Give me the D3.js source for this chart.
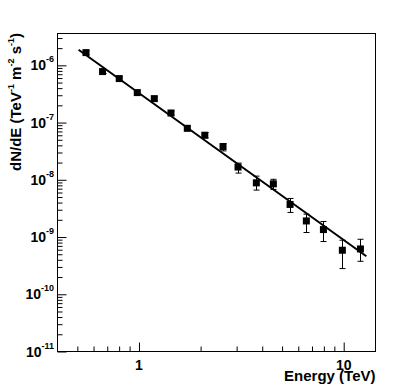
<!DOCTYPE html>
<html>
<head>
<meta charset="utf-8">
<script src="https://cdn.jsdelivr.net/npm/d3@7"></script>
<style>
  html, body { margin: 0; padding: 0; background: #fff; }
  svg { display: block; font-family: "Liberation Sans", Arial, Helvetica, sans-serif; font-weight: bold; }
</style>
</head>
<body>
<svg id="chart" width="408" height="391"></svg>
<script>
// ---- data ----
const energy = [0.551, 0.664, 0.801, 0.981, 1.188, 1.433, 1.722, 2.097, 2.574, 3.047, 3.744, 4.533, 5.470, 6.57, 7.96, 9.85, 12.07];
const flux   = [1.67e-6, 7.78e-7, 5.87e-7, 3.34e-7, 2.62e-7, 1.47e-7, 7.94e-8, 6.01e-8, 3.81e-8, 1.67e-8, 8.85e-9, 8.51e-9, 3.71e-9, 1.91e-9, 1.35e-9, 5.88e-10, 6.19e-10];
const fluxHi = [1.80e-6, 8.4e-7, 6.3e-7, 3.6e-7, 2.85e-7, 1.6e-7, 8.7e-8, 6.7e-8, 4.3e-8, 1.96e-8, 1.16e-8, 1.02e-8, 4.72e-9, 2.51e-9, 1.87e-9, 8.79e-10, 9.14e-10];
const fluxLo = [1.54e-6, 7.2e-7, 5.4e-7, 3.1e-7, 2.4e-7, 1.35e-7, 7.2e-8, 5.4e-8, 3.2e-8, 1.31e-8, 6.61e-9, 6.79e-9, 2.69e-9, 1.20e-9, 8.34e-10, 2.81e-10, 3.77e-10];
const fitE = [0.507, 12.9];
const fitF = [1.87e-6, 4.62e-10];
const xMajor = [1, 10];
const xMajorLabels = ["1", "10"];
const xMinor = [0.5, 0.6, 0.7, 0.8, 0.9, 2, 3, 4, 5, 6, 7, 8, 9];
const yExponents = [-11, -10, -9, -8, -7, -6];
const xDomain = [0.4, 14.3];
const yDomain = [1e-11, 3.6e-6];

// ---- layout ----
const L = 57.5, R = 375.5, T = 33.5, B = 351.5;
const svg = d3.select("#chart");
svg.append("rect").attr("width", 408).attr("height", 391).attr("fill", "#fff");

const x = d3.scaleLog().domain(xDomain).range([L, R]);
const y = d3.scaleLog().domain(yDomain).range([B, T]);

// y minor tick values
const yMinor = [];
for (let e = -11; e <= -6; e++) for (let m = 2; m <= 9; m++) {
  const v = m * Math.pow(10, e);
  if (v <= yDomain[1]) yMinor.push(v);
}
const yMajor = yExponents.map(e => Math.pow(10, e));

// axes (ticks drawn inside frame)
const gx = svg.append("g").attr("transform", `translate(0,${B})`);
gx.call(d3.axisBottom(x).tickValues(xMajor).tickSize(-9).tickFormat("").tickSizeOuter(0));
gx.append("g").call(d3.axisBottom(x).tickValues(xMinor).tickSize(-5).tickFormat("").tickSizeOuter(0));
gx.selectAll(".domain").remove();

const gy = svg.append("g").attr("transform", `translate(${L},0)`);
gy.call(d3.axisLeft(y).tickValues(yMajor).tickSize(-9).tickFormat("").tickSizeOuter(0));
gy.append("g").call(d3.axisLeft(y).tickValues(yMinor).tickSize(-5).tickFormat("").tickSizeOuter(0));
gy.selectAll(".domain").remove();
svg.selectAll(".tick line").attr("stroke", "#000").attr("stroke-width", 1);

// frame
svg.append("rect").attr("x", L).attr("y", T).attr("width", R - L).attr("height", B - T)
  .attr("fill", "none").attr("stroke", "#000").attr("stroke-width", 1);

// x tick labels
svg.selectAll(".xlab").data(xMajor).enter().append("text")
  .attr("x", d => x(d)).attr("y", 370).attr("text-anchor", "middle")
  .attr("font-size", 14).text((d, i) => xMajorLabels[i]);

// y tick labels 10^e
yExponents.forEach(e => {
  const t = svg.append("text").attr("x", 54).attr("y", y(Math.pow(10, e)) + 5)
    .attr("text-anchor", "end").attr("font-size", 14);
  t.append("tspan").text("10");
  t.append("tspan").attr("dy", -8).attr("font-size", 9).text(String(e));
});

// axis titles
svg.append("text").attr("x", R).attr("y", 381).attr("text-anchor", "end")
  .attr("font-size", 15).text("Energy (TeV)");

const yt = svg.append("text").attr("transform", `translate(21,${T - 0.5}) rotate(-90)`)
  .attr("text-anchor", "end").attr("font-size", 15);
yt.append("tspan").text("dN/dE (TeV");
yt.append("tspan").attr("dy", -7).attr("font-size", 9).text("-1");
yt.append("tspan").attr("dy", 7).text(" m");
yt.append("tspan").attr("dy", -7).attr("font-size", 9).text("-2");
yt.append("tspan").attr("dy", 7).text(" s");
yt.append("tspan").attr("dy", -7).attr("font-size", 9).text("-1");
yt.append("tspan").attr("dy", 7).text(")");

// fit line
const line = d3.line().x(d => x(d[0])).y(d => y(d[1]));
svg.append("path").datum(fitE.map((e, i) => [e, fitF[i]]))
  .attr("d", line).attr("fill", "none").attr("stroke", "#000").attr("stroke-width", 2);

// error bars
const pts = energy.map((e, i) => ({ e, f: flux[i], hi: fluxHi[i], lo: fluxLo[i] }));
const eb = svg.append("g").attr("stroke", "#000").attr("stroke-width", 1);
pts.forEach(p => {
  const cx = Math.round(x(p.e)) + 0.5;
  eb.append("line").attr("x1", cx).attr("x2", cx).attr("y1", y(p.hi)).attr("y2", y(p.lo));
  eb.append("line").attr("x1", cx - 3).attr("x2", cx + 3).attr("y1", y(p.hi)).attr("y2", y(p.hi));
  eb.append("line").attr("x1", cx - 3).attr("x2", cx + 3).attr("y1", y(p.lo)).attr("y2", y(p.lo));
});

// markers
svg.append("g").selectAll("rect").data(pts).enter().append("rect")
  .attr("x", d => x(d.e) - 3.5).attr("y", d => y(d.f) - 3.5)
  .attr("width", 7).attr("height", 7).attr("fill", "#000");
</script>
</body>
</html>
